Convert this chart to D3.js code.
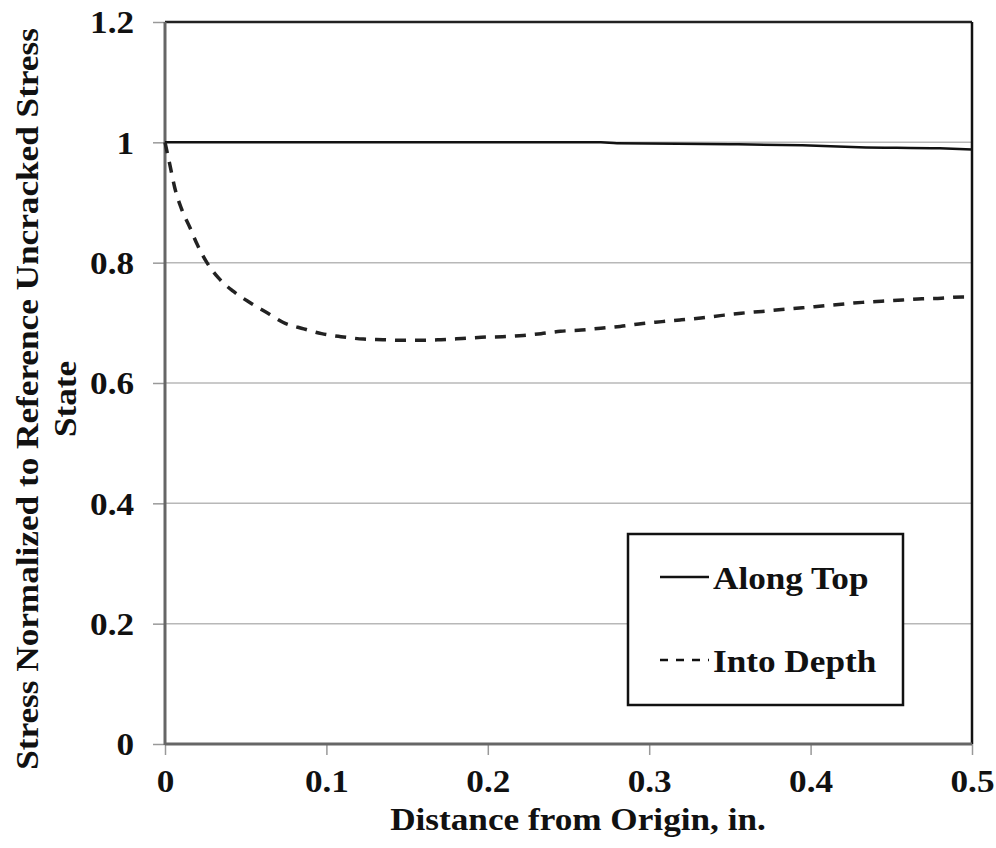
<!DOCTYPE html>
<html lang="en">
<head>
<meta charset="UTF-8">
<title>Stress Normalized to Reference Uncracked Stress State</title>
<script src="https://d3js.org/d3.v7.min.js"></script>
<style>
    body { margin: 0; background: #fff; }
    text { font-family: "Liberation Serif", "Times New Roman", serif; font-weight: bold; fill: #111; }
</style>
</head>
<body>
<svg width="996" height="848"></svg>
<script>
// Series: [distance (in.), normalized stress]
const alongTop = [
    [0, 1.0], [0.1, 1.0], [0.2, 1.0], [0.27, 1.0], [0.28, 0.9985], [0.35, 0.997],
    [0.395, 0.995], [0.43, 0.992], [0.48, 0.990], [0.5, 0.988]
];
const intoDepth = [
    [0, 1.0], [0.003, 0.963], [0.006, 0.925], [0.010, 0.891], [0.0155, 0.858],
    [0.020, 0.830], [0.026, 0.800], [0.033, 0.775], [0.042, 0.753], [0.053, 0.733],
    [0.065, 0.714], [0.073, 0.701], [0.086, 0.690], [0.097, 0.682], [0.109, 0.677],
    [0.123, 0.673], [0.135, 0.672], [0.147, 0.671], [0.160, 0.671], [0.171, 0.672],
    [0.184, 0.674], [0.196, 0.676], [0.209, 0.677], [0.222, 0.679], [0.233, 0.682],
    [0.245, 0.686], [0.258, 0.688], [0.270, 0.691], [0.282, 0.694], [0.296, 0.699],
    [0.308, 0.702], [0.320, 0.705], [0.332, 0.708], [0.344, 0.712], [0.357, 0.716],
    [0.370, 0.719], [0.382, 0.722], [0.395, 0.725], [0.407, 0.728], [0.419, 0.731],
    [0.432, 0.734], [0.444, 0.736], [0.457, 0.738], [0.469, 0.740], [0.481, 0.741],
    [0.494, 0.743], [0.5, 0.743]
];
const xTicks = [0, 0.1, 0.2, 0.3, 0.4, 0.5];
const yTicks = [0, 0.2, 0.4, 0.6, 0.8, 1, 1.2];
const seriesNames = ["Along Top", "Into Depth"];

const svg = d3.select("svg");
const plotL = 165, plotR = 972, plotT = 22, plotB = 744;
const fontSize = 32, stretch = 1.1;   // the original lettering is a bit wider than Liberation Serif

const x = d3.scaleLinear().domain([0, 0.5]).range([plotL, plotR]);
const y = d3.scaleLinear().domain([0, 1.2]).range([plotB, plotT]);

// gridlines
svg.append("g")
    .selectAll("line")
    .data(yTicks.filter(d => d > 0 && d < 1.2))
    .join("line")
    .attr("x1", plotL).attr("x2", plotR)
    .attr("y1", d => y(d)).attr("y2", d => y(d))
    .attr("stroke", "#b8b8b8")
    .attr("stroke-width", 1.5);

// axes
const yAxis = svg.append("g")
    .attr("transform", `translate(${plotL},0)`)
    .call(d3.axisLeft(y).tickValues(yTicks).tickFormat(d3.format("")).tickSize(12).tickPadding(19));
const xAxis = svg.append("g")
    .attr("transform", `translate(0,${plotB})`)
    .call(d3.axisBottom(x).tickValues(xTicks).tickFormat(d3.format("")).tickSize(11).tickPadding(14));

[yAxis, xAxis].forEach(g => {
    g.select(".domain").remove();
    g.selectAll(".tick line").attr("stroke", "#999").attr("stroke-width", 1.5);
    g.selectAll(".tick text")
        .style("font-family", "Liberation Serif, serif")
        .style("font-weight", "bold")
        .style("font-size", fontSize + "px")
        .attr("fill", "#111")
        .attr("transform", `scale(${stretch},1)`);
});
yAxis.selectAll(".tick text").attr("x", -31 / stretch).attr("dy", "0.34em");

// plot frame
svg.append("line").attr("x1", plotL).attr("x2", plotR).attr("y1", plotT).attr("y2", plotT)
    .attr("stroke", "#222").attr("stroke-width", 2.5);
svg.append("line").attr("x1", plotR).attr("x2", plotR).attr("y1", plotT).attr("y2", plotB)
    .attr("stroke", "#111").attr("stroke-width", 2.5);
svg.append("line").attr("x1", plotL).attr("x2", plotL).attr("y1", plotT).attr("y2", plotB + 1)
    .attr("stroke", "#666").attr("stroke-width", 3);
svg.append("line").attr("x1", plotL).attr("x2", plotR).attr("y1", plotB).attr("y2", plotB)
    .attr("stroke", "#666").attr("stroke-width", 3);

// lines
const line = d3.line().x(d => x(d[0])).y(d => y(d[1])).curve(d3.curveMonotoneX);

svg.append("path")
    .datum(alongTop)
    .attr("d", line)
    .attr("fill", "none")
    .attr("stroke", "#111")
    .attr("stroke-width", 2.5);

svg.append("path")
    .datum(intoDepth)
    .attr("d", line)
    .attr("fill", "none")
    .attr("stroke", "#222")
    .attr("stroke-width", 3.5)
    .attr("stroke-dasharray", "11,9");

// legend
const legend = svg.append("g");
legend.append("rect")
    .attr("x", 628).attr("y", 534).attr("width", 275).attr("height", 171)
    .attr("fill", "#fff").attr("stroke", "#111").attr("stroke-width", 2.5);

const legendRows = legend.selectAll("g.row")
    .data(seriesNames)
    .join("g")
    .attr("class", "row")
    .attr("transform", (d, i) => `translate(0,${577 + i * 83})`);

legendRows.append("line")
    .attr("x1", 660).attr("x2", 709)
    .attr("y1", 0).attr("y2", 0)
    .attr("stroke", "#111")
    .attr("stroke-width", 2.5)
    .attr("stroke-dasharray", (d, i) => i === 1 ? "8,8" : null);

legendRows.append("text")
    .attr("transform", `translate(713,12) scale(${stretch},1)`)
    .style("font-size", fontSize + "px")
    .text(d => d);

// axis titles
svg.append("text")
    .attr("transform", `translate(578,830) scale(${stretch},1)`)
    .attr("text-anchor", "middle")
    .style("font-size", fontSize + "px")
    .text("Distance from Origin, in.");

const yTitle = svg.append("text")
    .attr("transform", `translate(38,399) rotate(-90) scale(${stretch},1)`)
    .attr("text-anchor", "middle")
    .style("font-size", fontSize + "px");
yTitle.append("tspan").attr("x", 0).attr("y", 0).text("Stress Normalized to Reference Uncracked Stress");
yTitle.append("tspan").attr("x", 0).attr("y", 38).text("State");
</script>
</body>
</html>
